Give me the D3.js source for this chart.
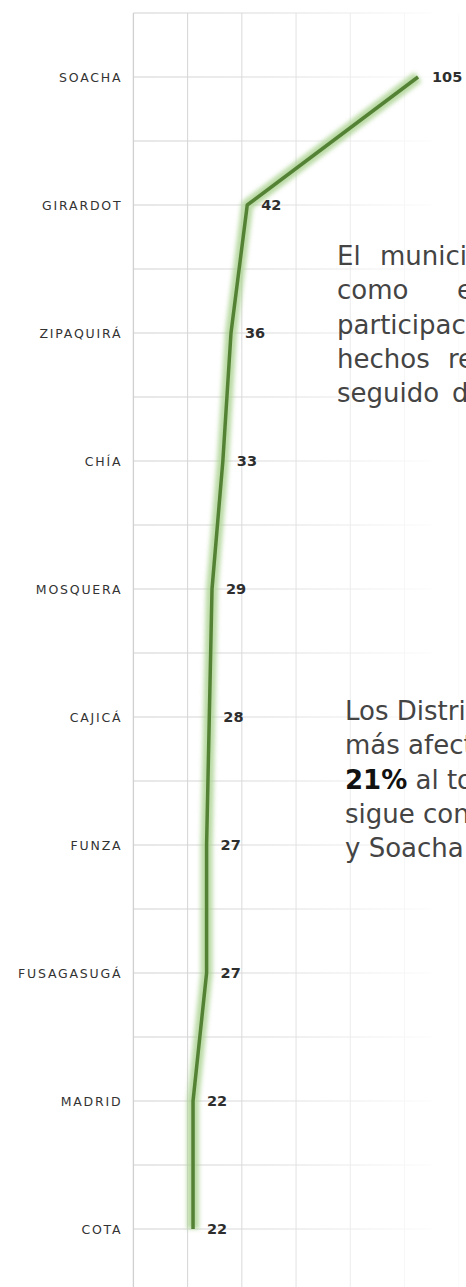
<!DOCTYPE html>
<html>
<head>
<meta charset="utf-8">
<script src="https://cdn.jsdelivr.net/npm/d3@7"></script>
<style>
  html, body { margin: 0; padding: 0; background: #fff; overflow: hidden; }
  svg { display: block; }
</style>
</head>
<body>
<svg id="chartSVG"></svg>
<script>
/**
 * Data
 */
const municipios = ["SOACHA", "GIRARDOT", "ZIPAQUIRÁ", "CHÍA", "MOSQUERA",
  "CAJICÁ", "FUNZA", "FUSAGASUGÁ", "MADRID", "COTA"];
const casos = [105, 42, 36, 33, 29, 28, 27, 27, 22, 22];
const xTicks = [0, 20, 40, 60, 80, 100, 120];

/**
 * Text next to the chart (cut by the right edge of the page)
 */
const notaUno = [
  ["El", "municipio de Soacha se presenta"],
  ["como", "el de mayor"],
  ["participación en los"],
  ["hechos", "reportados"],
  ["seguido", "de Girardot"]
];
const notaDos = [
  [{ t: "Los Distritos", b: false }],
  [{ t: "más afectados", b: false }],
  [{ t: "21%", b: true }, { t: " al total", b: false }],
  [{ t: "sigue con", b: false }],
  [{ t: "y Soacha", b: false }]
];

/**
 * Sizes
 */
const width = 466,
  height = 1287;

const svg = d3.select("#chartSVG").attr("width", width).attr("height", height);

// scales
const xScale = d3.scaleLinear().domain([0, 120]).range([133.4, 458.7]);
const yScale = d3.scalePoint().domain(municipios).range([13, 1293]).padding(0.5);
const step = yScale.step();

// fading grey for the grid
const defs = svg.append("defs");
const fade = defs.append("linearGradient")
  .attr("id", "gridFade")
  .attr("gradientUnits", "userSpaceOnUse")
  .attr("x1", 133).attr("x2", 430).attr("y1", 0).attr("y2", 0);
fade.append("stop").attr("offset", "0%").attr("stop-color", "#d0d0d0");
fade.append("stop").attr("offset", "45%").attr("stop-color", "#dcdcdc");
fade.append("stop").attr("offset", "100%").attr("stop-color", "#fbfbfb");

const glow = defs.append("filter").attr("id", "glow")
  .attr("x", "-50%").attr("y", "-5%").attr("width", "200%").attr("height", "110%");
glow.append("feGaussianBlur").attr("stdDeviation", 2);

// horizontal grid lines, one on each category and one between
let gridY = [];
municipios.forEach(m => {
  gridY.push(yScale(m) - step / 2);
  gridY.push(yScale(m));
});
svg.append("g")
  .selectAll("line")
  .data(gridY)
  .join("line")
  .attr("x1", xScale(0))
  .attr("x2", xScale(110))
  .attr("y1", d => d)
  .attr("y2", d => d)
  .attr("stroke", "url(#gridFade)")
  .attr("stroke-width", 1);

// vertical grid lines
svg.append("g")
  .selectAll("line")
  .data(xTicks)
  .join("line")
  .attr("x1", d => xScale(d))
  .attr("x2", d => xScale(d))
  .attr("y1", yScale(municipios[0]) - step / 2)
  .attr("y2", height)
  .attr("stroke", "url(#gridFade)")
  .attr("stroke-width", d => (d === 0 ? 1.3 : 1));

// category labels
const yAxis = d3.axisLeft(yScale).tickSize(0).tickPadding(11);
const axisGroup = svg.append("g")
  .attr("transform", `translate(${xScale(0)},0)`)
  .call(yAxis);
axisGroup.select(".domain").remove();
axisGroup.selectAll("text")
  .attr("font-family", "DejaVu Sans, sans-serif")
  .attr("font-size", 12.5)
  .attr("letter-spacing", 1.8)
  .attr("fill", "#333");

// the line
const points = municipios.map((m, i) => ({ name: m, value: casos[i] }));
const lineGen = d3.line()
  .x(d => xScale(d.value))
  .y(d => yScale(d.name));

svg.append("path")
  .datum(points)
  .attr("d", lineGen)
  .attr("fill", "none")
  .attr("stroke", "#A9D18E")
  .attr("stroke-width", 12)
  .attr("stroke-linejoin", "round")
  .attr("opacity", 0.8)
  .attr("filter", "url(#glow)");

svg.append("path")
  .datum(points)
  .attr("d", lineGen)
  .attr("fill", "none")
  .attr("stroke", "#548235")
  .attr("stroke-width", 3.5)
  .attr("stroke-linejoin", "round");

// value labels
svg.append("g")
  .selectAll("text")
  .data(points)
  .join("text")
  .attr("x", d => xScale(d.value) + 14)
  .attr("y", d => yScale(d.name))
  .attr("dy", "0.36em")
  .attr("font-family", "DejaVu Sans, sans-serif")
  .attr("font-weight", "bold")
  .attr("font-size", 14.5)
  .attr("fill", "#2e2e2e")
  .text(d => d.value);

// first note, justified lines
const notaUnoX = [[337, 380], [337, 457], [337], [337, 448], [337, 452]];
const notaUnoG = svg.append("g")
  .attr("font-family", "DejaVu Sans, sans-serif")
  .attr("font-size", 26)
  .attr("fill", "#444");
notaUno.forEach((line, i) => {
  const t = notaUnoG.append("text").attr("y", 265 + i * 34.3);
  line.forEach((w, j) => {
    t.append("tspan").attr("x", notaUnoX[i][j]).text(w);
  });
});

// second note
const notaDosG = svg.append("g")
  .attr("font-family", "DejaVu Sans, sans-serif")
  .attr("font-size", 26)
  .attr("fill", "#444");
notaDos.forEach((line, i) => {
  const t = notaDosG.append("text").attr("x", 345).attr("y", 720 + i * 34.3);
  line.forEach(part => {
    t.append("tspan")
      .attr("font-weight", part.b ? "bold" : "normal")
      .attr("fill", part.b ? "#111" : "#444")
      .text(part.t);
  });
});
</script>
</body>
</html>
